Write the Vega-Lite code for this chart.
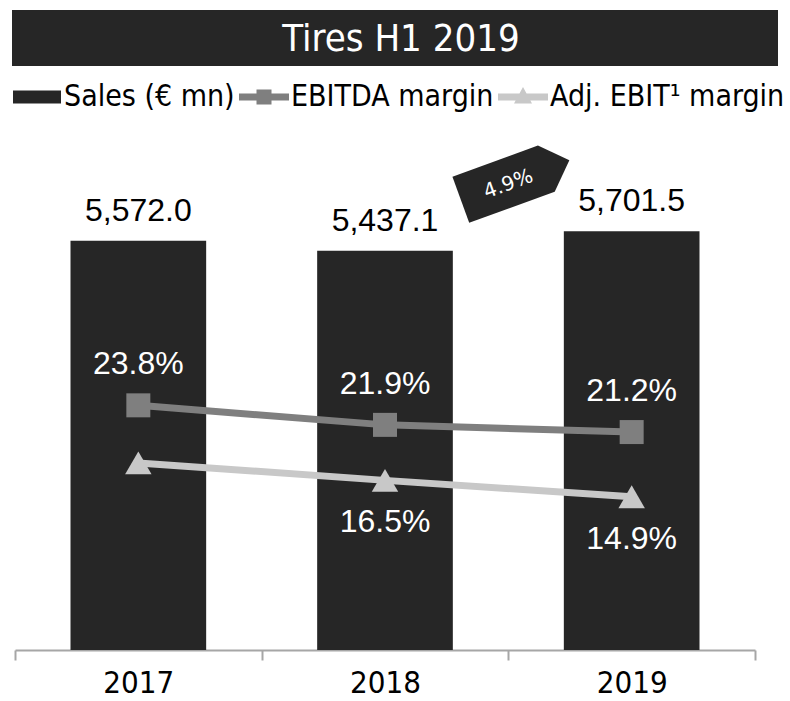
{
  "$schema": "https://vega.github.io/schema/vega-lite/v6.json",
  "padding": {"left": 12, "top": 10, "right": 0, "bottom": 0},
  "background": "white",
  "spacing": 6,
  "config": {"view": {"stroke": null}, "font": "Liberation Sans"},
  "datasets": {
    "main": [
      {"year": "2017", "sales": 5572.0, "ebitda": 0.238, "adj": 0.182},
      {"year": "2018", "sales": 5437.1, "ebitda": 0.219, "adj": 0.165},
      {"year": "2019", "sales": 5701.5, "ebitda": 0.212, "adj": 0.149}
    ],
    "annot": [
      {"year": "2018", "level": 6344, "label": "4.9%"}
    ],
    "head": [
      {"title": "Tires H1 2019"}
    ]
  },
  "vconcat": [
    {
      "width": 766,
      "height": 56,
      "data": {"name": "head"},
      "layer": [
        {"mark": {"type": "rect", "color": "#262626"}, "encoding": {}},
        {
          "mark": {"type": "text", "color": "white", "fontSize": 38, "font": "DejaVu Sans Condensed, Liberation Sans", "align": "center", "baseline": "middle", "dy": 2, "dx": 6},
          "encoding": {"text": {"field": "title", "type": "nominal"}}
        }
      ]
    },
    {
      "width": 766,
      "height": 514,
      "data": {"name": "main"},
      "encoding": {
        "x": {
          "field": "year",
          "type": "nominal",
          "scale": {"range": [3, 743], "paddingInner": 0, "paddingOuter": 0},
          "axis": {
            "title": null,
            "labelAngle": 0,
            "labelFont": "DejaVu Sans Condensed, Liberation Sans",
            "labelFontSize": 31,
            "labelColor": "black",
            "labelPadding": 8,
            "domainColor": "#a6a6a6",
            "domainWidth": 2,
            "tickColor": "#a6a6a6",
            "tickWidth": 2,
            "tickSize": 10,
            "tickBand": "extent",
            "grid": false
          }
        }
      },
      "layer": [
        {
          "layer": [
            {
              "mark": {"type": "bar", "width": {"band": 0.55}},
              "encoding": {
                "y": {"field": "sales", "type": "quantitative", "scale": {"domain": [0, 7000]}, "axis": null},
                "color": {
                  "datum": "Sales (€ mn)",
                  "type": "nominal",
                  "scale": {
                    "domain": ["Sales (€ mn)", "EBITDA margin", "Adj. EBIT¹ margin"],
                    "range": ["#262626", "#7f7f7f", "#c8c8c8"]
                  },
                  "legend": {
                    "orient": "top",
                    "direction": "horizontal",
                    "title": null,
                    "labelFont": "DejaVu Sans Condensed, Liberation Sans",
                    "labelFontSize": 30,
                    "labelColor": "black",
                    "labelLimit": 400,
                    "symbolSize": 2500,
                    "labelOffset": 2,
                    "columnPadding": 4,
                    "offset": 24,
                    "padding": 0,
                    "symbolOpacity": 1,
                    "symbolStrokeWidth": 0,
                    "encode": {
                      "symbols": {
                        "update": {
                          "shape": {"signal": "datum.value === 'Sales (€ mn)' ? 'M-0.96,-0.26H0.96V0.26H-0.96Z' : datum.value === 'EBITDA margin' ? 'M-1,-0.14H1V0.14H-1Z M-0.3,-0.3H0.3V0.3H-0.3Z' : 'M-1,-0.14H1V0.14H-1Z M0,-0.4L0.36,0.26H-0.36Z'"},
                          "fill": {"signal": "datum.value === 'Sales (€ mn)' ? '#262626' : datum.value === 'EBITDA margin' ? '#7f7f7f' : '#c8c8c8'"},
                          "stroke": {"value": "transparent"},
                          "opacity": {"value": 1}
                        }
                      }
                    }
                  }
                }
              }
            },
            {
              "mark": {"type": "text", "baseline": "bottom", "dy": -13, "fontSize": 32, "color": "black"},
              "encoding": {
                "y": {"field": "sales", "type": "quantitative"},
                "text": {"field": "sales", "type": "quantitative", "format": ",.1f"}
              }
            },
            {
              "data": {"name": "annot"},
              "mark": {"type": "point", "filled": true, "opacity": 1, "color": "#262626", "size": 19600, "angle": -20,
                "shape": "M-0.714,-0.373L0.586,-0.373L0.936,-0.023L0.586,0.327L-0.714,0.327Z"},
              "encoding": {
                "x": {"field": "year", "type": "nominal", "bandPosition": 1},
                "y": {"field": "level", "type": "quantitative"}
              }
            },
            {
              "data": {"name": "annot"},
              "mark": {"type": "text", "color": "white", "fontSize": 20, "font": "DejaVu Sans", "angle": -20, "align": "center", "baseline": "middle"},
              "encoding": {
                "x": {"field": "year", "type": "nominal", "bandPosition": 1},
                "y": {"field": "level", "type": "quantitative"},
                "text": {"field": "label", "type": "nominal"}
              }
            }
          ]
        },
        {
          "layer": [
            {
              "mark": {"type": "line", "strokeWidth": 7, "strokeCap": "round"},
              "encoding": {
                "y": {"field": "ebitda", "type": "quantitative", "scale": {"domain": [0, 0.5]}, "axis": null},
                "color": {"datum": "EBITDA margin", "type": "nominal"}
              }
            },
            {
              "mark": {"type": "line", "strokeWidth": 7, "strokeCap": "round"},
              "encoding": {
                "y": {"field": "adj", "type": "quantitative"},
                "color": {"datum": "Adj. EBIT¹ margin", "type": "nominal"}
              }
            },
            {
              "mark": {"type": "point", "shape": "square", "filled": true, "opacity": 1, "size": 576},
              "encoding": {
                "y": {"field": "ebitda", "type": "quantitative"},
                "color": {"datum": "EBITDA margin", "type": "nominal"}
              }
            },
            {
              "mark": {"type": "point", "shape": "triangle-up", "filled": true, "opacity": 1, "size": 700},
              "encoding": {
                "y": {"field": "adj", "type": "quantitative"},
                "color": {"datum": "Adj. EBIT¹ margin", "type": "nominal"}
              }
            },
            {
              "mark": {"type": "text", "baseline": "middle", "dy": -41, "fontSize": 32, "color": "white"},
              "encoding": {
                "y": {"field": "ebitda", "type": "quantitative"},
                "text": {"field": "ebitda", "type": "quantitative", "format": ".1%"}
              }
            },
            {
              "transform": [{"filter": "datum.year != '2017'"}],
              "mark": {"type": "text", "baseline": "middle", "dy": 42, "fontSize": 32, "color": "white"},
              "encoding": {
                "y": {"field": "adj", "type": "quantitative"},
                "text": {"field": "adj", "type": "quantitative", "format": ".1%"}
              }
            }
          ]
        }
      ],
      "resolve": {"scale": {"y": "independent"}}
    }
  ],
  "resolve": {"scale": {"color": "independent"}}
}
